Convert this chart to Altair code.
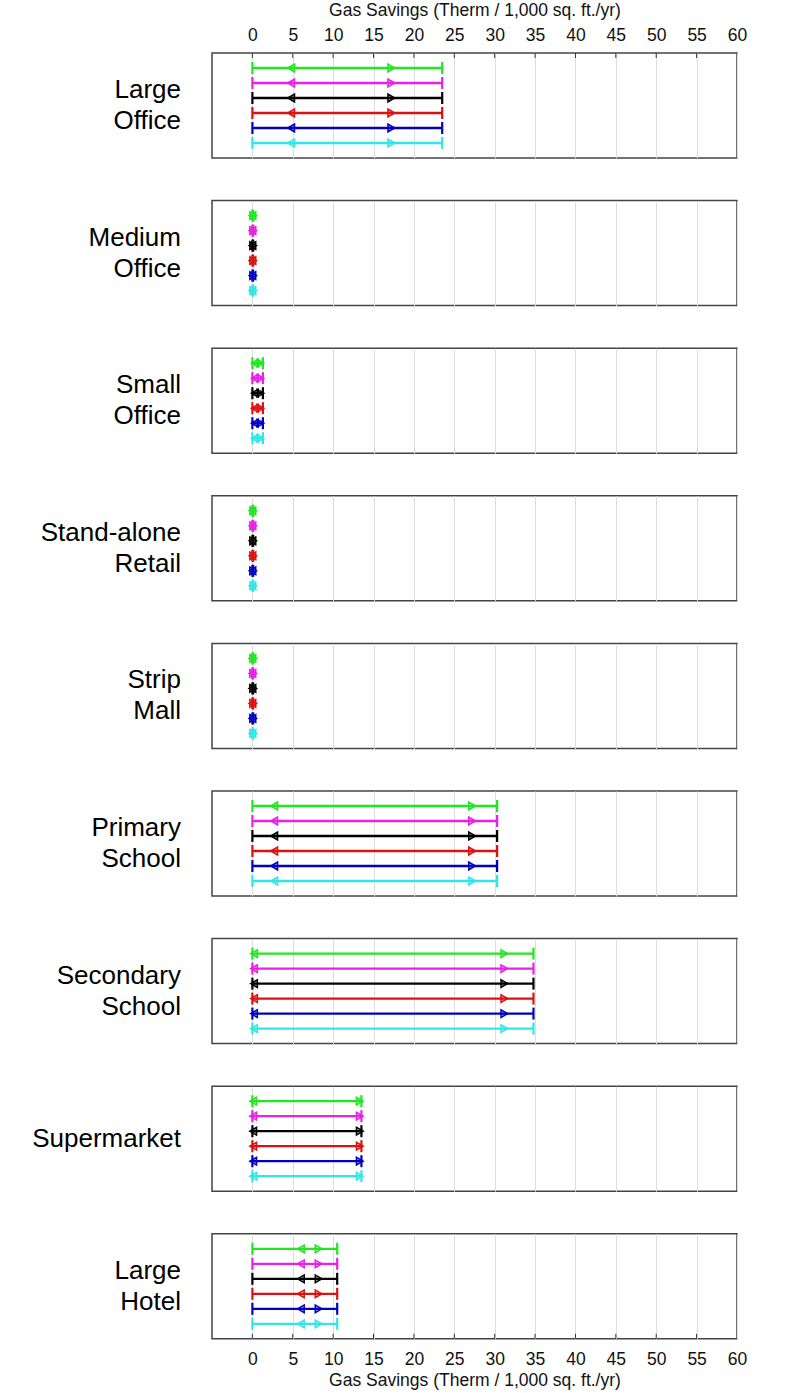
import altair as alt
import pandas as pd

buildings = ["Large Office", "Medium Office", "Small Office", "Stand-alone Retail",
             "Strip Mall", "Primary School", "Secondary School", "Supermarket", "Large Hotel"]
labels = ["Large\nOffice", "Medium\nOffice", "Small\nOffice", "Stand-alone\nRetail",
          "Strip\nMall", "Primary\nSchool", "Secondary\nSchool", "Supermarket", "Large\nHotel"]
range_lo = [0, 0, 0, 0, 0, 0, 0, 0, 0]
range_hi = [23.5, 0.1, 1.3, 0.1, 0.1, 30.3, 34.8, 13.5, 10.5]
tri_lo = [4.8, 0.0, 0.3, 0.0, 0.0, 2.7, 0.2, 0.1, 6.0]
tri_hi = [17.2, 0.1, 1.0, 0.1, 0.1, 27.2, 31.2, 13.3, 8.2]
series = ["Series 1", "Series 2", "Series 3", "Series 4", "Series 5", "Series 6"]
series_colors = ["#22e622", "#e622e6", "#000000", "#dd1111", "#0000c0", "#33e6e6"]
tick_values = list(range(0, 65, 5))
inner_ticks = list(range(0, 60, 5))

rows = []
for b, lo, hi, pl, ph in zip(buildings, range_lo, range_hi, tri_lo, tri_hi):
    for i, s in enumerate(series):
        rows.append(dict(building=b, series=s, row=i + 1, lo=lo, hi=hi, plo=pl, phi=ph))
df = pd.DataFrame(rows)

FONT = "Liberation Sans"
x_scale = alt.Scale(domain=[-5, 60], nice=False, zero=False)
y_scale = alt.Scale(domain=[0, 7], reverse=True)
color_scale = alt.Scale(domain=series, range=series_colors)
TITLE = "Gas Savings (Therm / 1,000 sq. ft./yr)"
W, H = 525, 105
LH = 31


def panel(idx):
    b = buildings[idx]
    d = df[df.building == b]
    last = len(buildings) - 1
    if idx == 0:
        axis = alt.Axis(orient="top", values=tick_values, title=TITLE, grid=True, ticks=False,
                        domain=False, labelPadding=9, titlePadding=7, labelFlush=False)
    elif idx == last:
        axis = alt.Axis(orient="bottom", values=tick_values, title=TITLE, grid=True, ticks=False,
                        domain=False, labelPadding=12, titlePadding=3, labelFlush=False)
    else:
        axis = alt.Axis(values=tick_values, grid=True, labels=False, ticks=False,
                        domain=False, title=None)
    base = alt.Chart(d)
    y = alt.Y("row:Q", scale=y_scale, axis=None)
    color = alt.Color("series:N", scale=color_scale, legend=None)
    stroke = alt.Stroke("series:N", scale=color_scale, legend=None)
    fill = alt.Fill("series:N", scale=color_scale, legend=None)
    line = base.mark_rule(strokeWidth=2.3).encode(
        x=alt.X("lo:Q", scale=x_scale, axis=axis), x2="hi:Q", y=y, color=color)
    cap_lo = base.mark_tick(size=12, thickness=2.2, orient="vertical", opacity=1).encode(
        x=alt.X("lo:Q", scale=x_scale), y=y, color=color)
    cap_hi = base.mark_tick(size=12, thickness=2.2, orient="vertical", opacity=1).encode(
        x=alt.X("hi:Q", scale=x_scale), y=y, color=color)
    t_lo = base.mark_point(shape="triangle-left", filled=True, size=60, strokeWidth=1.5,
                           opacity=1, fillOpacity=0.35).encode(
        x=alt.X("plo:Q", scale=x_scale), y=y, stroke=stroke, fill=fill)
    t_hi = base.mark_point(shape="triangle-right", filled=True, size=60, strokeWidth=1.5,
                           opacity=1, fillOpacity=0.35).encode(
        x=alt.X("phi:Q", scale=x_scale), y=y, stroke=stroke, fill=fill)
    nlines = labels[idx].count("\n") + 1
    lab = alt.Chart(pd.DataFrame({"label": [labels[idx]]})).mark_text(
        align="right", baseline="middle", fontSize=26, lineBreak="\n", lineHeight=LH,
        font=FONT, color="#000").encode(
        x=alt.value(-31), y=alt.value(H / 2 - (nlines - 1) * LH / 2), text="label:N")
    layers = [line, cap_lo, cap_hi, t_lo, t_hi, lab]
    if idx == 0 or idx == last:
        tk = pd.DataFrame({"v": inner_ticks})
        if idx == 0:
            tr = alt.Chart(tk).mark_rule(color="#333", strokeWidth=1).encode(
                x=alt.X("v:Q", scale=x_scale), y=alt.value(0), y2=alt.value(5))
        else:
            tr = alt.Chart(tk).mark_rule(color="#333", strokeWidth=1).encode(
                x=alt.X("v:Q", scale=x_scale), y=alt.value(H - 5), y2=alt.value(H))
        layers.insert(0, tr)
    return alt.layer(*layers).properties(width=W, height=H)


chart = alt.vconcat(*[panel(i) for i in range(len(buildings))], spacing=40.6).configure_view(
    stroke="#444", strokeWidth=1.5
).configure_axis(
    labelFont=FONT, labelFontSize=17.5, labelColor="#111", titleFont=FONT, titleFontSize=17.5,
    titleFontWeight="normal", titleColor="#111", gridColor="#dddddd", gridWidth=1
).properties(padding={"left": 31, "top": 0, "right": 10, "bottom": 2})

chart.save("out.html", embed_options={"renderer": "svg", "actions": False})
